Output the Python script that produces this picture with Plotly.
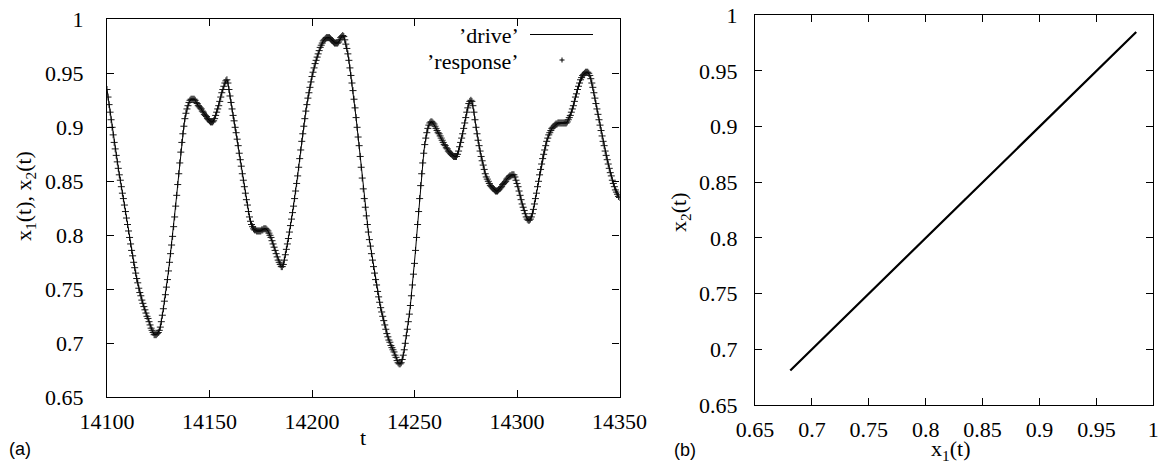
import plotly.graph_objects as go

# ---------------- data ----------------
t_start = 14100.0
t_step = 0.5

# x1(t): 'drive' signal, sampled every 0.5 time units from t=14100 to t=14350
drive = [
    0.935, 0.928, 0.921, 0.914, 0.907, 0.900, 0.893, 0.886, 0.880, 0.874,
    0.868, 0.862, 0.856, 0.851, 0.845, 0.839, 0.834, 0.828, 0.822, 0.816,
    0.810, 0.804, 0.798, 0.792, 0.786, 0.781, 0.775, 0.770, 0.765, 0.760,
    0.756, 0.751, 0.747, 0.744, 0.740, 0.737, 0.734, 0.731, 0.728, 0.725,
    0.723, 0.720, 0.717, 0.714, 0.712, 0.710, 0.708, 0.708, 0.708, 0.709,
    0.710, 0.712, 0.715, 0.720, 0.726, 0.732, 0.739, 0.745, 0.752, 0.759,
    0.767, 0.775, 0.783, 0.791, 0.799, 0.808, 0.817, 0.827, 0.837, 0.847,
    0.857, 0.867, 0.877, 0.886, 0.894, 0.901, 0.908, 0.913, 0.917, 0.920,
    0.923, 0.925, 0.926, 0.926, 0.926, 0.926, 0.925, 0.923, 0.922, 0.920,
    0.919, 0.918, 0.917, 0.915, 0.914, 0.912, 0.911, 0.910, 0.908, 0.907,
    0.906, 0.905, 0.905, 0.905, 0.906, 0.908, 0.911, 0.914, 0.917, 0.920,
    0.924, 0.928, 0.932, 0.935, 0.938, 0.941, 0.943, 0.944, 0.941, 0.935,
    0.929, 0.923, 0.917, 0.911, 0.906, 0.900, 0.895, 0.889, 0.883, 0.876,
    0.870, 0.864, 0.857, 0.851, 0.845, 0.839, 0.833, 0.828, 0.822, 0.817,
    0.813, 0.810, 0.808, 0.806, 0.805, 0.805, 0.804, 0.804, 0.804, 0.804,
    0.804, 0.805, 0.805, 0.806, 0.806, 0.806, 0.805, 0.804, 0.802, 0.800,
    0.798, 0.795, 0.792, 0.789, 0.786, 0.783, 0.780, 0.777, 0.775, 0.773,
    0.771, 0.771, 0.773, 0.777, 0.782, 0.787, 0.792, 0.797, 0.803, 0.809,
    0.815, 0.821, 0.827, 0.834, 0.841, 0.848, 0.855, 0.863, 0.871, 0.879,
    0.887, 0.894, 0.901, 0.908, 0.915, 0.921, 0.927, 0.932, 0.937, 0.942,
    0.947, 0.951, 0.955, 0.959, 0.962, 0.965, 0.968, 0.971, 0.974, 0.976,
    0.978, 0.980, 0.981, 0.982, 0.983, 0.983, 0.983, 0.983, 0.982, 0.981,
    0.980, 0.979, 0.978, 0.978, 0.978, 0.978, 0.979, 0.981, 0.983, 0.984,
    0.985, 0.984, 0.981, 0.977, 0.973, 0.968, 0.962, 0.955, 0.948, 0.941,
    0.934, 0.926, 0.918, 0.909, 0.900, 0.891, 0.883, 0.873, 0.863, 0.853,
    0.843, 0.834, 0.826, 0.818, 0.810, 0.803, 0.796, 0.790, 0.783, 0.777,
    0.771, 0.765, 0.759, 0.754, 0.748, 0.743, 0.738, 0.733, 0.729, 0.725,
    0.721, 0.717, 0.713, 0.709, 0.706, 0.703, 0.701, 0.698, 0.696, 0.694,
    0.692, 0.689, 0.687, 0.684, 0.682, 0.681, 0.681, 0.682, 0.685, 0.689,
    0.694, 0.700, 0.707, 0.713, 0.720, 0.727, 0.735, 0.744, 0.754, 0.764,
    0.774, 0.786, 0.798, 0.810, 0.822, 0.834, 0.846, 0.857, 0.867, 0.876,
    0.884, 0.890, 0.895, 0.899, 0.902, 0.904, 0.905, 0.905, 0.904, 0.903,
    0.901, 0.899, 0.897, 0.895, 0.894, 0.892, 0.890, 0.888, 0.886, 0.884,
    0.883, 0.881, 0.880, 0.878, 0.877, 0.876, 0.875, 0.874, 0.873, 0.873,
    0.873, 0.873, 0.875, 0.878, 0.882, 0.886, 0.890, 0.894, 0.899, 0.904,
    0.909, 0.914, 0.918, 0.922, 0.924, 0.925, 0.924, 0.920, 0.914, 0.907,
    0.900, 0.894, 0.888, 0.883, 0.878, 0.873, 0.869, 0.865, 0.861, 0.857,
    0.854, 0.852, 0.850, 0.848, 0.846, 0.845, 0.844, 0.843, 0.842, 0.841,
    0.841, 0.841, 0.842, 0.843, 0.844, 0.845, 0.847, 0.848, 0.849, 0.850,
    0.852, 0.853, 0.854, 0.855, 0.855, 0.856, 0.856, 0.856, 0.854, 0.851,
    0.848, 0.845, 0.841, 0.837, 0.833, 0.829, 0.826, 0.823, 0.820, 0.817,
    0.815, 0.814, 0.814, 0.815, 0.817, 0.820, 0.824, 0.829, 0.834, 0.839,
    0.845, 0.850, 0.856, 0.861, 0.866, 0.871, 0.875, 0.879, 0.883, 0.887,
    0.890, 0.893, 0.895, 0.897, 0.899, 0.900, 0.901, 0.902, 0.903, 0.903,
    0.904, 0.904, 0.904, 0.904, 0.904, 0.904, 0.904, 0.904, 0.904, 0.905,
    0.907, 0.909, 0.911, 0.914, 0.917, 0.920, 0.924, 0.928, 0.931, 0.935,
    0.938, 0.941, 0.944, 0.946, 0.948, 0.949, 0.950, 0.951, 0.951, 0.951,
    0.950, 0.948, 0.945, 0.941, 0.937, 0.932, 0.927, 0.922, 0.917, 0.912,
    0.907, 0.902, 0.897, 0.892, 0.887, 0.883, 0.878, 0.874, 0.870, 0.866,
    0.862, 0.858, 0.855, 0.851, 0.848, 0.845, 0.842, 0.840, 0.838, 0.836,
    0.835,
]
# x2(t): 'response' signal -- completely synchronised with the drive in the figure
response = list(drive)

t = [t_start + t_step * i for i in range(len(drive))]

t_ticks = [14100, 14150, 14200, 14250, 14300, 14350]
t_tick_labels = ["14100", "14150", "14200", "14250", "14300", "14350"]
v_ticks = [0.65, 0.7, 0.75, 0.8, 0.85, 0.9, 0.95, 1.0]
v_tick_labels = ["0.65", "0.7", "0.75", "0.8", "0.85", "0.9", "0.95", "1"]

# ---------------- figure ----------------
W, H = 1161, 464
SERIF = "Liberation Serif, serif"
SANS = "Liberation Sans, sans-serif"

def px_x(p):
    return p / W

def px_y(p):
    return (H - p) / H

fig = go.Figure()

fig.add_trace(go.Scatter(
    x=t, y=response, mode="markers", name="'response'",
    marker=dict(symbol="cross-thin", size=5, line=dict(width=1, color="#1a1a1a")),
    xaxis="x", yaxis="y", showlegend=False,
))
fig.add_trace(go.Scatter(
    x=t, y=drive, mode="lines", name="'drive'",
    line=dict(color="black", width=1),
    xaxis="x", yaxis="y", showlegend=False,
))
fig.add_trace(go.Scatter(
    x=drive, y=response, mode="lines",
    line=dict(color="black", width=2.2),
    xaxis="x2", yaxis="y2", showlegend=False,
))

axis_common = dict(
    showline=True, linecolor="black", linewidth=1.3, mirror="ticks",
    ticks="inside", ticklen=7, tickwidth=1, tickcolor="black",
    showgrid=False, zeroline=False, automargin=False,
    tickfont=dict(family=SERIF, size=22, color="black"),
)

fig.update_layout(
    template="none",
    width=W, height=H, autosize=False,
    margin=dict(l=0, r=0, t=0, b=0, pad=0),
    paper_bgcolor="white", plot_bgcolor="white",
    font=dict(family=SERIF, size=22, color="black"),
    showlegend=False,
    xaxis=dict(domain=[px_x(107), px_x(619.5)], range=[14100, 14350],
               tickvals=t_ticks, ticktext=t_tick_labels, anchor="y",
               ticklabelstandoff=4, **axis_common),
    yaxis=dict(domain=[px_y(397.3), px_y(19.3)], range=[0.65, 1.0],
               tickvals=v_ticks, ticktext=v_tick_labels, anchor="x",
               ticklabelstandoff=18, **axis_common),
    xaxis2=dict(domain=[px_x(755), px_x(1153.3)], range=[0.65, 1.0],
                tickvals=v_ticks, ticktext=v_tick_labels, anchor="y2",
                ticklabelstandoff=4, **axis_common),
    yaxis2=dict(domain=[px_y(405), px_y(15.3)], range=[0.65, 1.0],
                tickvals=v_ticks, ticktext=v_tick_labels, anchor="x2",
                ticklabelstandoff=12, **axis_common),
)

ann = []
# axis titles
ann.append(dict(text="t", x=px_x(363), y=px_y(437), xref="paper", yref="paper",
                showarrow=False, xanchor="center", yanchor="middle",
                font=dict(family=SERIF, size=22, color="black")))
ann.append(dict(text="x<sub>1</sub>(t), x<sub>2</sub>(t)", x=px_x(25), y=px_y(196),
                xref="paper", yref="paper", showarrow=False, textangle=-90,
                xanchor="center", yanchor="middle",
                font=dict(family=SERIF, size=22, color="black")))
ann.append(dict(text="x<sub>1</sub>(t)", x=px_x(950), y=px_y(450), xref="paper", yref="paper",
                showarrow=False, xanchor="center", yanchor="middle",
                font=dict(family=SERIF, size=22, color="black")))
ann.append(dict(text="x<sub>2</sub>(t)", x=px_x(680), y=px_y(213), xref="paper", yref="paper",
                showarrow=False, textangle=-90, xanchor="center", yanchor="middle",
                font=dict(family=SERIF, size=22, color="black")))
# panel letters
ann.append(dict(text="(a)", x=px_x(20), y=px_y(449), xref="paper", yref="paper",
                showarrow=False, xanchor="center", yanchor="middle",
                font=dict(family=SANS, size=18, color="black")))
ann.append(dict(text="(b)", x=px_x(685), y=px_y(450), xref="paper", yref="paper",
                showarrow=False, xanchor="center", yanchor="middle",
                font=dict(family=SANS, size=18, color="black")))
# legend (gnuplot style: label then sample)
ann.append(dict(text="\u2019drive\u2019", x=px_x(521), y=px_y(36), xref="paper", yref="paper",
                showarrow=False, xanchor="right", yanchor="middle",
                font=dict(family=SERIF, size=22, color="black")))
ann.append(dict(text="\u2019response\u2019", x=px_x(521), y=px_y(62), xref="paper", yref="paper",
                showarrow=False, xanchor="right", yanchor="middle",
                font=dict(family=SERIF, size=22, color="black")))
fig.update_layout(annotations=ann)

# legend samples: line for 'drive', small cross for 'response'
fig.add_shape(type="line", xref="paper", yref="paper",
              x0=px_x(530), x1=px_x(593), y0=px_y(34.5), y1=px_y(34.5),
              line=dict(color="black", width=1))
fig.add_shape(type="line", xref="paper", yref="paper",
              x0=px_x(559.5), x1=px_x(564.5), y0=px_y(60), y1=px_y(60),
              line=dict(color="black", width=1))
fig.add_shape(type="line", xref="paper", yref="paper",
              x0=px_x(562), x1=px_x(562), y0=px_y(57.5), y1=px_y(62.5),
              line=dict(color="black", width=1))

fig.write_html("out.html",
               config={"displayModeBar": False},
               post_script="document.body.style.margin='0';document.body.style.padding='0';")
